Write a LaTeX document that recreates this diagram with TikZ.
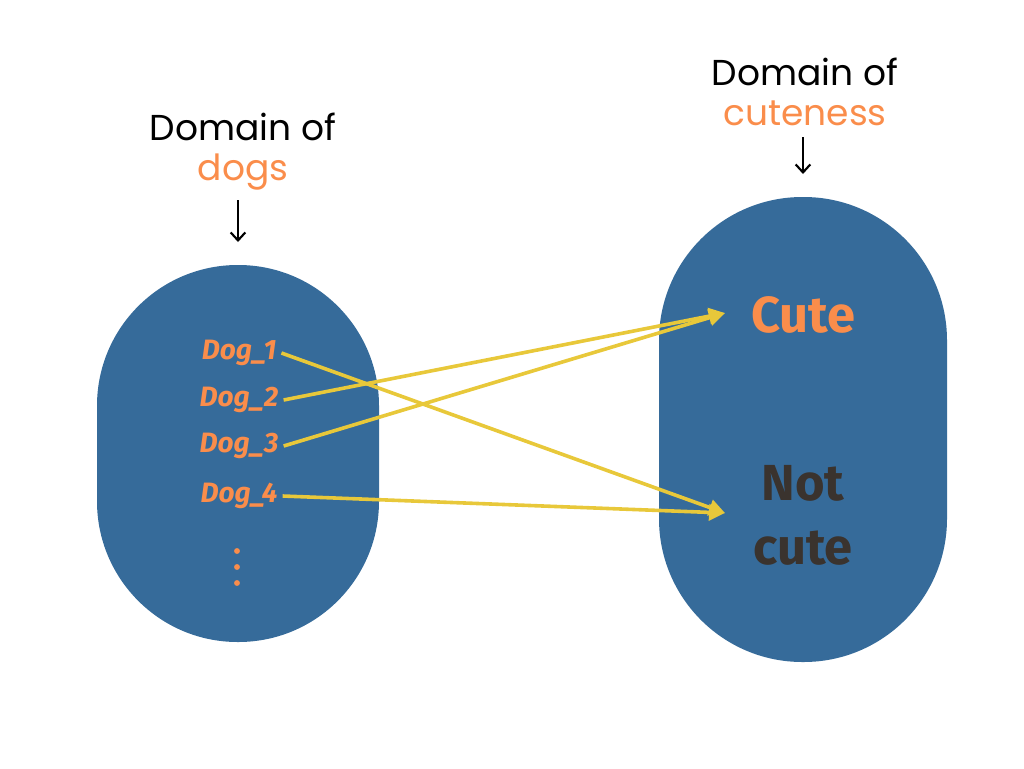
\documentclass[tikz,border=0pt]{standalone}
\usepackage{fontspec}
\setmainfont{Fira Sans}
\newfontfamily\handfont{Poppins}
\usetikzlibrary{arrows.meta}
\definecolor{blobblue}{RGB}{54,107,154}
\definecolor{dogorange}{RGB}{250,141,75}
\definecolor{linkyellow}{RGB}{232,200,58}
\definecolor{notdark}{RGB}{58,51,46}
\begin{document}
\begin{tikzpicture}[x=0.75pt,y=0.75pt,yscale=-1,xscale=1,
    dogtxt/.style={inner sep=0.75pt, text=dogorange, font=\bfseries\itshape\fontsize{21}{25}\selectfont},
    cutetxt/.style={inner sep=0.75pt, align=center, font=\bfseries\fontsize{38}{48}\selectfont},
    domtxt/.style={inner sep=0.75pt, align=center, font=\handfont\fontsize{27}{30}\selectfont},
    link/.style={linkyellow, line width=2.7pt, -{Triangle[length=12pt,width=12pt]}},
    down/.style={black, line width=1.6pt, -{Straight Barb[length=6pt,width=11pt]}}]
    \useasboundingbox (0,0) rectangle (1024,768);
    %Shape: Rounded Rectangle [id:dogdomain]
    \fill [blobblue, rounded corners=105.5pt] (97,265) rectangle (379,642);
    %Shape: Rounded Rectangle [id:cutedomain]
    \fill [blobblue, rounded corners=107.5pt] (659,197) rectangle (947,662);

    % Text Node
    \node (dogtitle) [domtxt] at (243,152) {Domain of\\\textcolor{dogorange}{dogs}};
    % Text Node
    \node (cutetitle) [domtxt] at (805,92) {Domain of\\\textcolor{dogorange}{cuteness}};
    % Text Node
    \node (dog1) [dogtxt] at (239,353) {Dog\_1};
    % Text Node
    \node (dog2) [dogtxt] at (239,400) {Dog\_2};
    % Text Node
    \node (dog3) [dogtxt] at (239,446) {Dog\_3};
    % Text Node
    \node (dog4) [dogtxt] at (239,496) {Dog\_4};
    % Text Node
    \node (cute) [cutetxt, text=dogorange] at (803,315) {Cute};
    % Text Node
    \node (notcute) [cutetxt, text=notdark] at (803,515) {Not\\cute};

    %Shape: Circles
    \fill [dogorange] (237,551) circle (2.2pt) (237,567) circle (2.2pt) (237,583) circle (2.2pt);

    \coordinate (cutein) at (725,313);
    \coordinate (notin) at (725,513);
    \coordinate (dogfrom) at (238,200);
    \coordinate (dogtop) at (238,242);
    \coordinate (cutefrom) at (803,137);
    \coordinate (cutetop) at (803,174);

    %Straight Lines
    \draw [down] (dogfrom) -- (dogtop);
    \draw [down] (cutefrom) -- (cutetop);
    %Straight Lines
    \draw [link] ([xshift=3pt]dog1.east) -- (notin);
    \draw [link] ([xshift=3pt]dog2.east) -- (cutein);
    \draw [link] ([xshift=3pt]dog3.east) -- (cutein);
    \draw [link] ([xshift=3pt]dog4.east) -- (notin);
\end{tikzpicture}
\end{document}
